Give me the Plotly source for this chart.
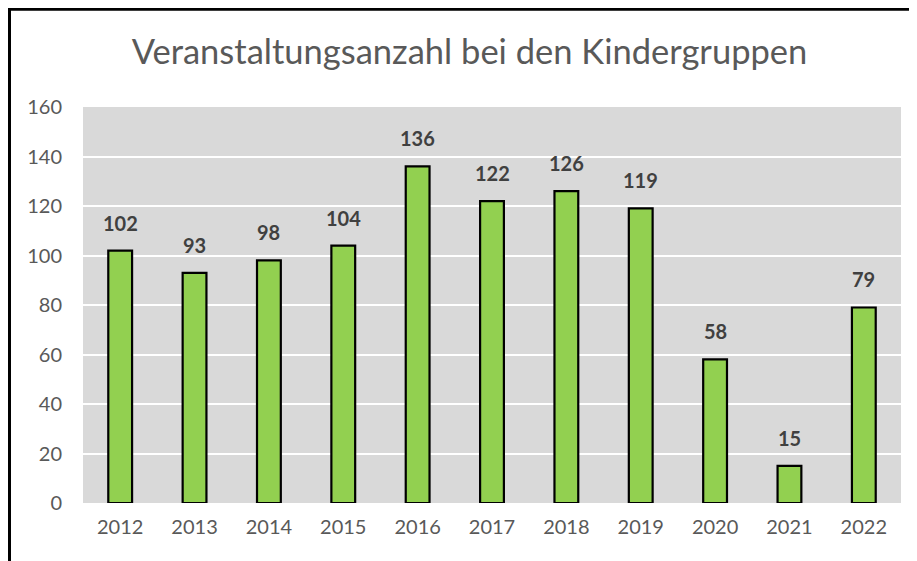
import plotly.graph_objects as go

years = [2012, 2013, 2014, 2015, 2016, 2017, 2018, 2019, 2020, 2021, 2022]
year_labels = ["2012", "2013", "2014", "2015", "2016", "2017", "2018", "2019", "2020", "2021", "2022"]
counts = [102, 93, 98, 104, 136, 122, 126, 119, 58, 15, 79]
y_ticks = [0, 20, 40, 60, 80, 100, 120, 140, 160]
title_text = "Veranstaltungsanzahl bei den Kindergruppen"

FONT = "Lato, Carlito, Calibri, sans-serif"

# page body adds an 8px offset; compensate so the picture lines up
OFF = 8
W, H = 917 - OFF, 561 - OFF
PL, PR, PT, PB = 83 - OFF, 901 - OFF, 107 - OFF, 503 - OFF

fig = go.Figure()
fig.add_trace(go.Bar(
    x=years, y=counts, width=0.32,
    marker=dict(color="#92d050", line=dict(color="#000000", width=2.2)),
    hoverinfo="x+y",
))

for yr, v in zip(years, counts):
    fig.add_annotation(x=yr, y=v, text=str(v), showarrow=False,
                       yanchor="bottom", yshift=14,
                       font=dict(family=FONT, size=20, color="#404040", weight="bold"))

# outer frame (left/top border of the chart picture)
pw, ph = PR - PL, PB - PT
fig.add_shape(type="rect", xref="paper", yref="paper",
              x0=(1.5 - PL) / pw, y0=-0.3, x1=1.2, y1=(PB - 1.3) / ph,
              line=dict(color="#000000", width=3), fillcolor="rgba(0,0,0,0)", layer="above")

fig.update_layout(
    width=W, height=H,
    margin=dict(l=PL, r=W - PR, t=PT, b=H - PB, autoexpand=False),
    paper_bgcolor="#ffffff", plot_bgcolor="#d9d9d9",
    showlegend=False,
    title=dict(text=title_text, x=(469.5 - OFF) / W, xref="container", xanchor="center",
               y=1 - (52 - OFF) / H, yref="container", yanchor="middle",
               font=dict(family=FONT, size=34.5, color="#595959")),
    font=dict(family=FONT, color="#595959"),
)
fig.update_xaxes(type="linear", range=[years[0] - 0.5, years[-1] + 0.5],
                 tickvals=years, ticktext=year_labels,
                 showgrid=False, showline=False, ticks="", zeroline=False,
                 tickfont=dict(family=FONT, size=20, color="#595959"),
                 ticklabelstandoff=10)
fig.update_yaxes(range=[0, 160], tickvals=y_ticks, showgrid=True, gridcolor="#ffffff",
                 gridwidth=2, zeroline=False, showline=False, ticks="",
                 tickfont=dict(family=FONT, size=20, color="#595959"),
                 ticklabelstandoff=20)

fig.write_html("out.html")
